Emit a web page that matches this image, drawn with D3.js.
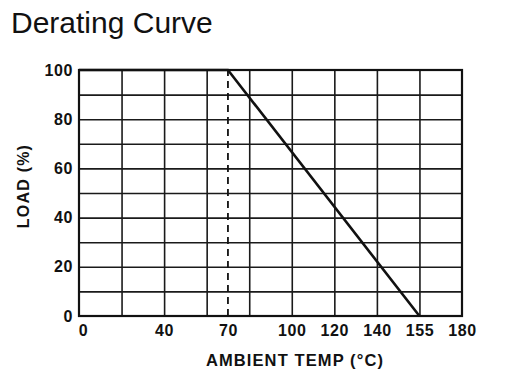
<!DOCTYPE html>
<html>
<head>
<meta charset="utf-8">
<script src="https://cdn.jsdelivr.net/npm/d3@7"></script>
<style>
  body { margin: 0; background: #fff; }
  text { font-family: "Liberation Sans", Arial, Helvetica, sans-serif; fill: #111; }
</style>
</head>
<body>
<div id="chart"></div>
<script>
// Data
const tempLabels = [0, 40, 70, 100, 120, 140, 155, 180];
const tempUnits = [0, 2, 3.5, 5, 6, 7, 8, 9];     // where each label sits on the grid
const gridTemps = [20, 40, 60, 80, 100, 120, 140, 155];
const loadTicks = [0, 20, 40, 60, 80, 100];
const loadGrid = [10, 20, 30, 40, 50, 60, 70, 80, 90];
const curveTemps = [0, 70, 155];
const curveLoads = [100, 100, 0];
const ratedTemp = 70;

const W = 513, H = 376;
const margin = { top: 70, right: 51, bottom: 60, left: 79 };
const width = W - margin.left - margin.right;
const height = H - margin.top - margin.bottom;

const svg = d3.select("#chart")
  .append("svg")
  .attr("width", W)
  .attr("height", H);

svg.append("text")
  .attr("x", 11)
  .attr("y", 33)
  .style("font-size", "30px")
  .text("Derating Curve");

const g = svg.append("g")
  .attr("transform", `translate(${margin.left},${margin.top})`);

// Piecewise x scale (the datasheet axis is not linear)
const unit = width / 9;
const x = d3.scaleLinear()
  .domain(tempLabels)
  .range(tempUnits.map(u => u * unit));

const y = d3.scaleLinear()
  .domain([0, 100])
  .range([height, 0]);

// Grid
g.append("g")
  .attr("class", "grid")
  .attr("transform", `translate(0,${height})`)
  .call(d3.axisBottom(x).tickValues(gridTemps).tickSize(-height).tickFormat(""))
  .call(s => s.select(".domain").remove());

g.append("g")
  .attr("class", "grid")
  .call(d3.axisLeft(y).tickValues(loadGrid).tickSize(-width).tickFormat(""))
  .call(s => s.select(".domain").remove());

g.selectAll(".grid line")
  .attr("stroke", "#1a1a1a")
  .attr("stroke-width", 1.6);

// Frame
g.append("rect")
  .attr("x", 0)
  .attr("y", 0)
  .attr("width", width)
  .attr("height", height)
  .attr("fill", "none")
  .attr("stroke", "#111")
  .attr("stroke-width", 2.2);

// Rated temperature marker
g.append("line")
  .attr("x1", x(ratedTemp))
  .attr("x2", x(ratedTemp))
  .attr("y1", y(0))
  .attr("y2", y(100))
  .attr("stroke", "#111")
  .attr("stroke-width", 1.8)
  .attr("stroke-dasharray", "7,5");

// Derating curve
const curve = curveTemps.map((t, i) => ({ t, load: curveLoads[i] }));
g.append("path")
  .datum(curve)
  .attr("fill", "none")
  .attr("stroke", "#111")
  .attr("stroke-width", 2.6)
  .attr("d", d3.line().x(d => x(d.t)).y(d => y(d.load)));

// Axes labels
const xAxis = g.append("g")
  .attr("transform", `translate(0,${height})`)
  .call(d3.axisBottom(x).tickValues(tempLabels).tickSize(0).tickPadding(9).tickFormat(d3.format("d")));
xAxis.select(".domain").remove();
xAxis.selectAll("text")
  .style("font-size", "16px")
  .style("font-weight", "bold")
  .style("letter-spacing", "0.6px")
  .attr("dx", d => d === 0 ? 4 : 0);

const yAxis = g.append("g")
  .call(d3.axisLeft(y).tickValues(loadTicks).tickSize(0).tickPadding(6).tickFormat(d3.format("d")));
yAxis.select(".domain").remove();
yAxis.selectAll("text")
  .style("font-size", "16px")
  .style("font-weight", "bold")
  .style("letter-spacing", "0.6px");

svg.append("text")
  .attr("x", 295)
  .attr("y", 366)
  .attr("text-anchor", "middle")
  .style("font-size", "16.5px")
  .style("font-weight", "bold")
  .style("letter-spacing", "1.1px")
  .text("AMBIENT TEMP (°C)");

svg.append("text")
  .attr("transform", "translate(29,186) rotate(-90)")
  .attr("text-anchor", "middle")
  .style("font-size", "16px")
  .style("font-weight", "bold")
  .style("letter-spacing", "1.2px")
  .text("LOAD (%)");
</script>
</body>
</html>
